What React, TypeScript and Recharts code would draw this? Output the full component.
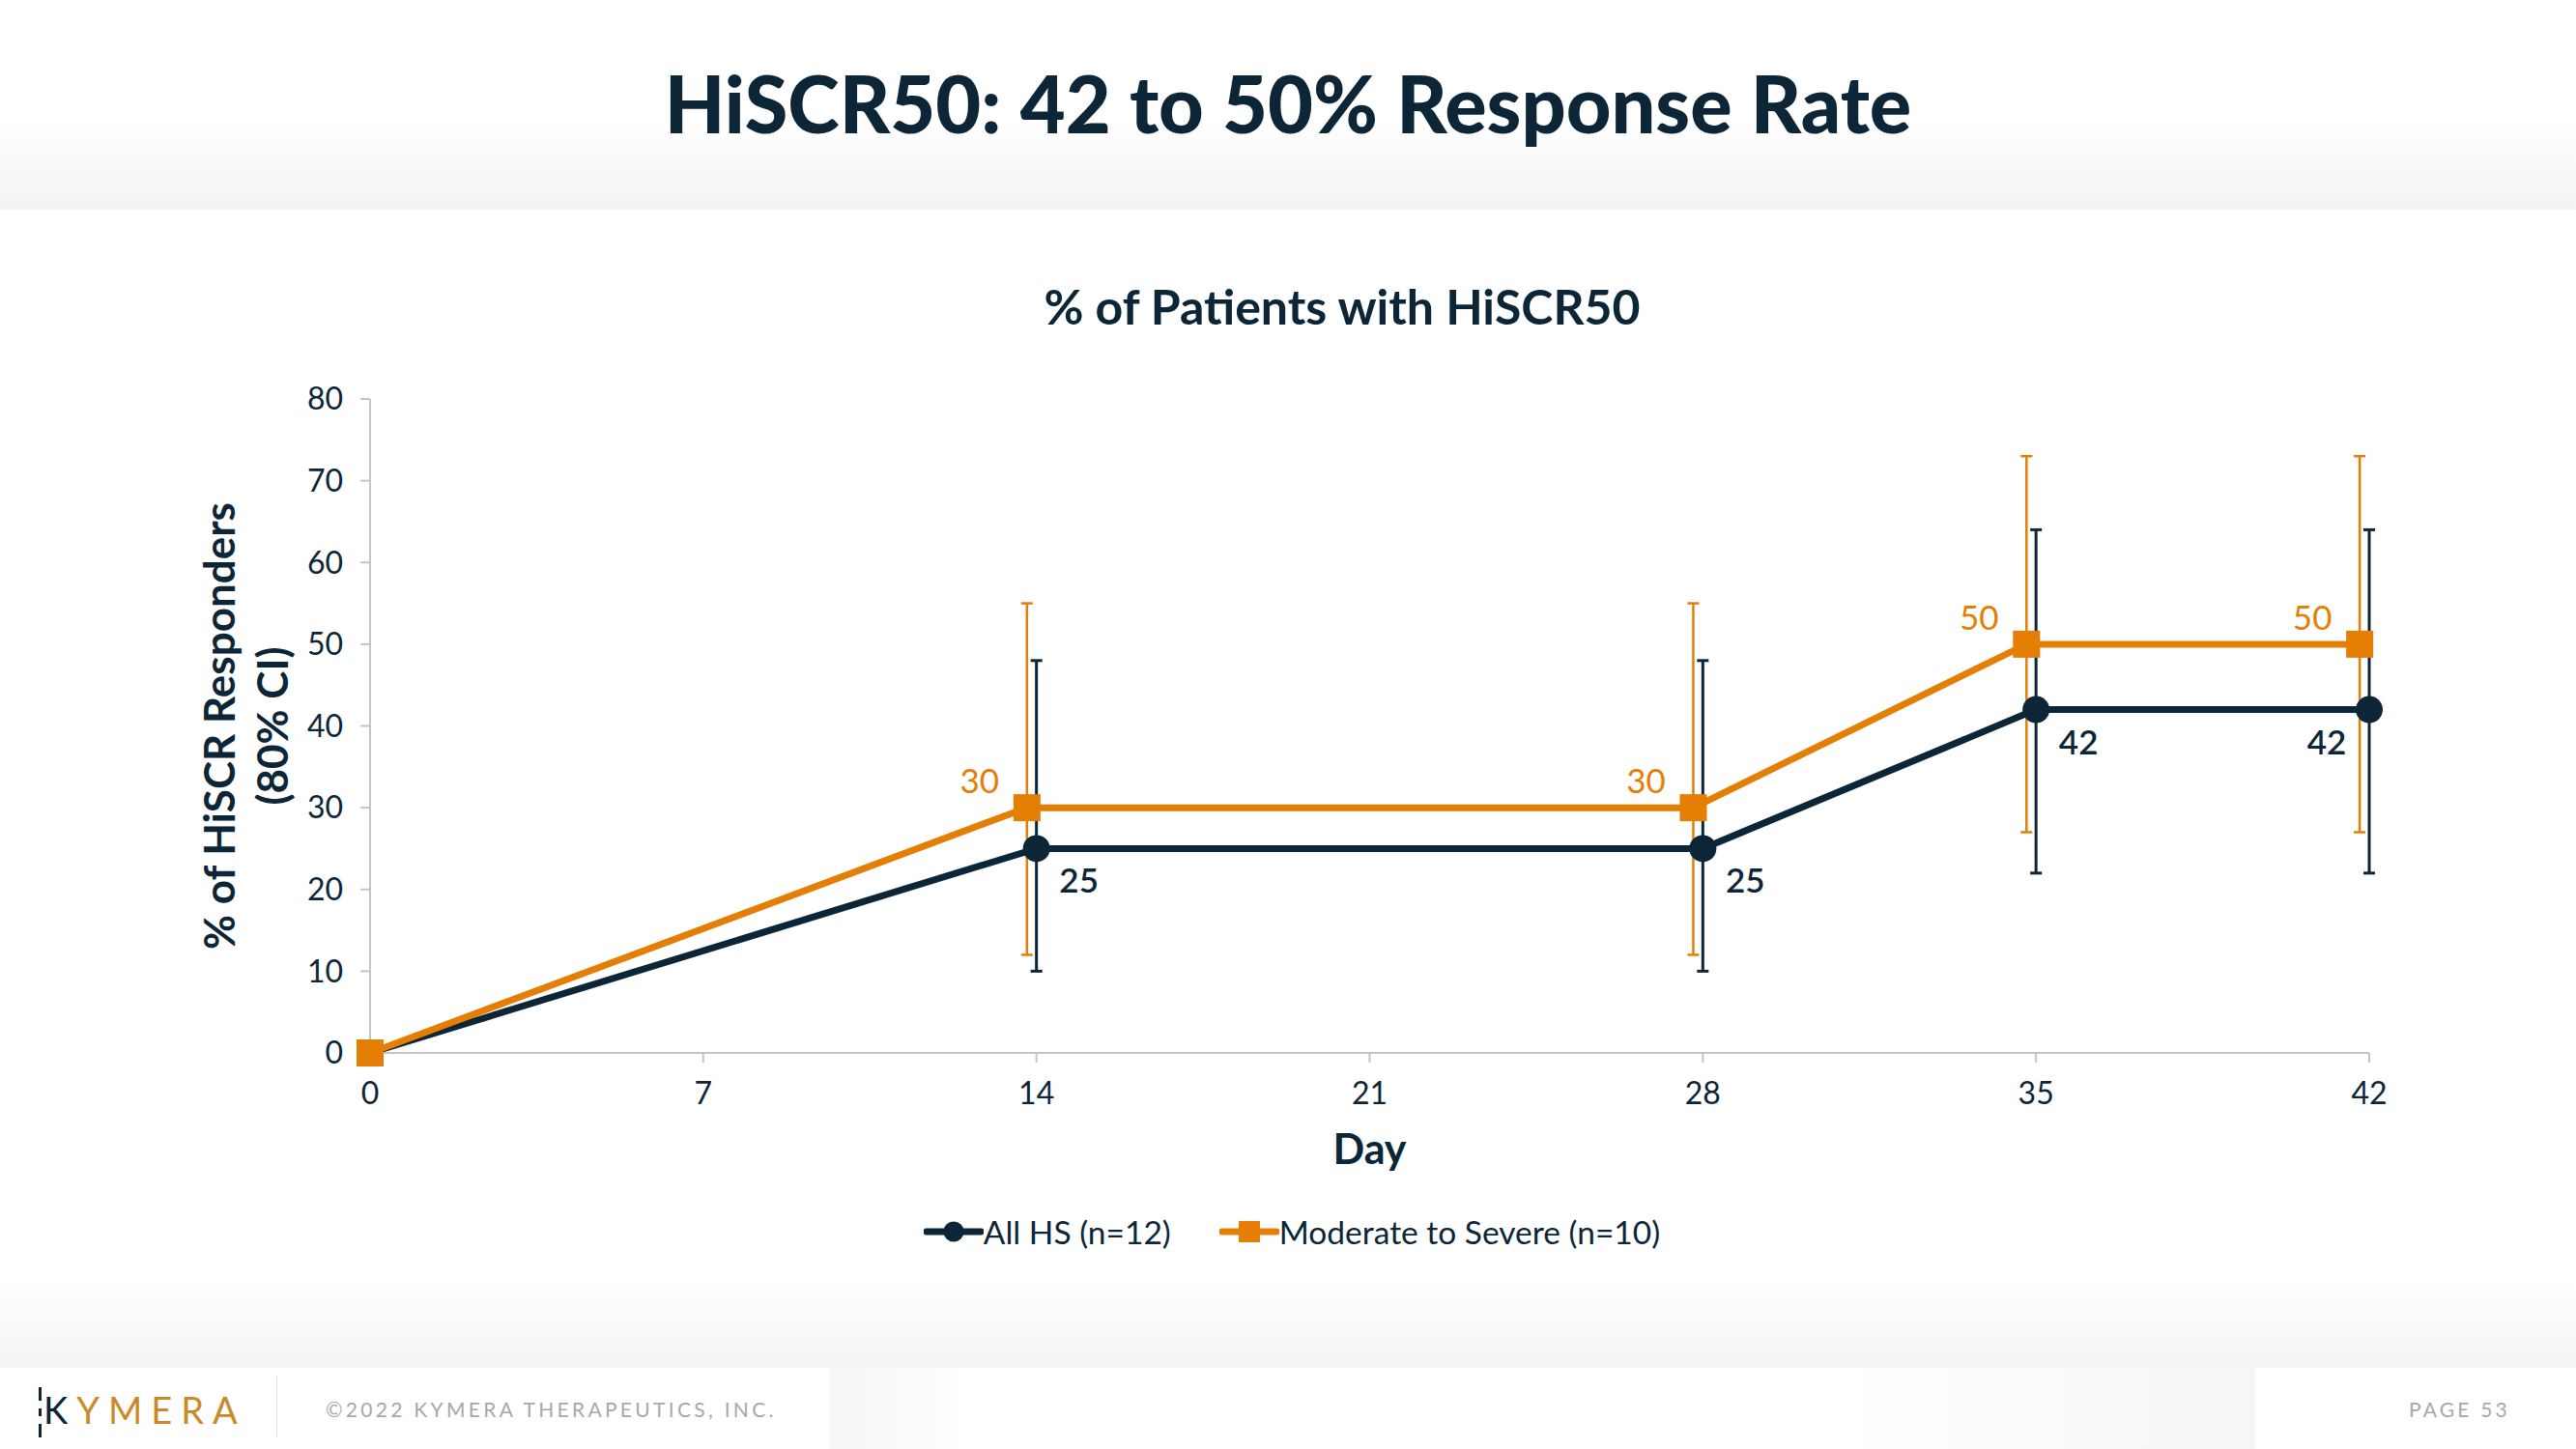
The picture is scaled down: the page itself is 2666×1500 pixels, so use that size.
import React from 'react';
import { LineChart, Line, XAxis, YAxis, ErrorBar } from 'recharts';

const NAVY = '#0c2638';
const ORANGE = '#e47e05';
const AXIS_GREY = '#c4c4c4';
const FONT = 'Lato, "Open Sans", sans-serif';

// All HS (n=12)
const allHsDays = [0, 14, 28, 35, 42];
const allHsValues = [0, 25, 25, 42, 42];
const allHsLow = [null, 10, 10, 22, 22];
const allHsHigh = [null, 48, 48, 64, 64];

// Moderate to Severe (n=10) - plotted slightly left of the nominal day
const modSevDays = [0, 13.8, 27.8, 34.8, 41.8];
const modSevValues = [0, 30, 30, 50, 50];
const modSevLow = [null, 12, 12, 27, 27];
const modSevHigh = [null, 55, 55, 73, 73];

const dayTicks = [0, 7, 14, 21, 28, 35, 42];
const pctTicks = [0, 10, 20, 30, 40, 50, 60, 70, 80];

const buildSeries = (days: number[], values: number[], low: (number | null)[], high: (number | null)[]) =>
  days.map((day, i) => ({
    day,
    value: values[i],
    err: low[i] == null ? null : [values[i] - (low[i] as number), (high[i] as number) - values[i]],
  }));

const allHs = buildSeries(allHsDays, allHsValues, allHsLow, allHsHigh);
const modSev = buildSeries(modSevDays, modSevValues, modSevLow, modSevHigh);

const navyLabel = (props: any) => {
  const { x, y, value, index } = props;
  if (!index) return null;
  const last = index === allHsDays.length - 1;
  return (
    <text
      key={`nl-${index}`}
      x={x + (last ? -44 : 44)}
      y={y + 32}
      textAnchor="middle"
      dominantBaseline="central"
      fill={NAVY}
      fontSize={35}
      fontFamily={FONT}
      fontWeight={600}
    >
      {value}
    </text>
  );
};

const orangeLabel = (props: any) => {
  const { x, y, value, index } = props;
  if (!index) return null;
  return (
    <text
      key={`ol-${index}`}
      x={x - 49}
      y={y - 29}
      textAnchor="middle"
      dominantBaseline="central"
      fill={ORANGE}
      fontSize={35}
      fontFamily={FONT}
    >
      {value}
    </text>
  );
};

const squareDot = (props: any) => {
  const { cx, cy, index } = props;
  return <rect key={`sq-${index}`} x={cx - 14} y={cy - 14} width={28} height={28} fill={ORANGE} />;
};

const yAxisLabel = (props: any) => {
  const { viewBox } = props;
  const cy = viewBox.y + viewBox.height / 2;
  const x1 = viewBox.x - 77;
  const x2 = viewBox.x - 22;
  return (
    <g>
      <text
        x={x1}
        y={cy}
        transform={`rotate(-90, ${x1}, ${cy})`}
        textAnchor="middle"
        dominantBaseline="central"
        fill={NAVY}
        fontSize={44}
        fontWeight={700}
        fontFamily={FONT}
      >
        % of HiSCR Responders
      </text>
      <text
        x={x2}
        y={cy}
        transform={`rotate(-90, ${x2}, ${cy})`}
        textAnchor="middle"
        dominantBaseline="central"
        fill={NAVY}
        fontSize={44}
        fontWeight={700}
        fontFamily={FONT}
      >
        (80% CI)
      </text>
    </g>
  );
};

const xAxisLabel = (props: any) => {
  const { viewBox } = props;
  return (
    <text
      x={viewBox.x + viewBox.width / 2}
      y={viewBox.y + 98}
      textAnchor="middle"
      dominantBaseline="central"
      fill={NAVY}
      fontSize={43}
      fontWeight={700}
      fontFamily={FONT}
    >
      Day
    </text>
  );
};

const LegendItem = ({ color, square, text }: { color: string; square: boolean; text: string }) => (
  <div style={{ display: 'flex', alignItems: 'center' }}>
    <svg width={62} height={30}>
      <line x1={3} y1={15} x2={59} y2={15} stroke={color} strokeWidth={7} strokeLinecap="round" />
      {square ? <rect x={20} y={4} width={22} height={22} fill={color} /> : <circle cx={31} cy={15} r={10.5} fill={color} />}
    </svg>
    <span style={{ fontSize: 33.5, color: NAVY, fontFamily: FONT }}>{text}</span>
  </div>
);

export default function App() {
  return (
    <div style={{ position: 'absolute', left: 0, top: 0, width: 2666, height: 1500, background: '#fff', overflow: 'hidden', fontFamily: FONT }}>
      {/* header band */}
      <div style={{ position: 'absolute', left: 0, top: 0, width: 2666, height: 217, background: 'linear-gradient(to bottom, #ffffff 0%, #ffffff 58%, #f3f3f3 100%)' }} />
      <div style={{ position: 'absolute', left: 0, top: 55, width: 2666, textAlign: 'center', fontSize: 81, fontWeight: 900, color: NAVY, lineHeight: '104px' }}>
        HiSCR50: 42 to 50% Response Rate
      </div>

      {/* chart title */}
      <div style={{ position: 'absolute', left: 0, top: 287, width: 2778, textAlign: 'center', fontSize: 50, fontWeight: 700, color: NAVY, lineHeight: '60px' }}>
        % of Patients with HiSCR50
      </div>

      <div style={{ position: 'absolute', left: 0, top: 0 }}>
        <LineChart width={2666} height={1330} margin={{ top: 413, right: 214, bottom: 180, left: 303 }}>
          <XAxis
            type="number"
            dataKey="day"
            domain={[0, 42]}
            ticks={dayTicks}
            interval={0}
            height={60}
            tickSize={10}
            tickMargin={20}
            axisLine={{ stroke: AXIS_GREY, strokeWidth: 2 }}
            tickLine={{ stroke: AXIS_GREY, strokeWidth: 2 }}
            tick={{ fill: NAVY, fontSize: 32, fontFamily: FONT }}
            label={{ content: xAxisLabel }}
          />
          <YAxis
            type="number"
            domain={[0, 80]}
            ticks={pctTicks}
            interval={0}
            width={80}
            tickSize={10}
            tickMargin={18}
            axisLine={{ stroke: AXIS_GREY, strokeWidth: 2 }}
            tickLine={{ stroke: AXIS_GREY, strokeWidth: 2 }}
            tick={{ fill: NAVY, fontSize: 32, fontFamily: FONT }}
            label={{ content: yAxisLabel }}
          />
          {/* error bars first so all markers sit above them */}
          <Line data={modSev} dataKey="value" stroke="none" dot={false} activeDot={false} legendType="none" isAnimationActive={false}>
            <ErrorBar dataKey="err" direction="y" width={6} strokeWidth={2.5} stroke={ORANGE} />
          </Line>
          <Line data={allHs} dataKey="value" stroke="none" dot={false} activeDot={false} legendType="none" isAnimationActive={false}>
            <ErrorBar dataKey="err" direction="y" width={6} strokeWidth={3} stroke={NAVY} />
          </Line>
          <Line
            data={allHs}
            dataKey="value"
            name="All HS (n=12)"
            stroke={NAVY}
            strokeWidth={7}
            dot={{ r: 14, fill: NAVY, stroke: NAVY, strokeWidth: 0 }}
            activeDot={false}
            label={navyLabel}
            isAnimationActive={false}
          />
          <Line
            data={modSev}
            dataKey="value"
            name="Moderate to Severe (n=10)"
            stroke={ORANGE}
            strokeWidth={7}
            dot={squareDot}
            activeDot={false}
            label={orangeLabel}
            isAnimationActive={false}
          />
        </LineChart>
      </div>

      {/* legend */}
      <div style={{ position: 'absolute', left: 0, top: 1255, width: 2666, display: 'flex', justifyContent: 'center', gap: 50, paddingLeft: 4 }}>
        <LegendItem color={NAVY} square={false} text="All HS (n=12)" />
        <LegendItem color={ORANGE} square={true} text="Moderate to Severe (n=10)" />
      </div>

      {/* footer */}
      <div style={{ position: 'absolute', left: 0, top: 1326, width: 2666, height: 90, background: 'linear-gradient(to bottom, #ffffff 0%, #f4f4f4 100%)' }} />
      <div style={{ position: 'absolute', left: 859, top: 1416, width: 144, height: 84, background: 'linear-gradient(to right, #f6f6f6, #ffffff)' }} />
      <div style={{ position: 'absolute', left: 1904, top: 1416, width: 430, height: 84, background: 'linear-gradient(to right, #ffffff, #f6f6f6)' }} />
      <div style={{ position: 'absolute', left: 40, top: 1436, width: 3, height: 14, background: NAVY }} />
      <div style={{ position: 'absolute', left: 40, top: 1458, width: 3, height: 8, background: NAVY }} />
      <div style={{ position: 'absolute', left: 40, top: 1474, width: 3, height: 14, background: NAVY }} />
      <div style={{ position: 'absolute', left: 45, top: 1437, fontSize: 38, letterSpacing: 9, lineHeight: '44px', fontWeight: 400 }}>
        <span style={{ color: NAVY }}>K</span>
        <span style={{ color: '#c98a2a' }}>YMERA</span>
      </div>
      <div style={{ position: 'absolute', left: 286, top: 1425, width: 1, height: 62, background: '#e2e2e2' }} />
      <div style={{ position: 'absolute', left: 337, top: 1446, fontSize: 21, letterSpacing: 3.3, color: '#a8a8a8', lineHeight: '26px' }}>
        ©2022 KYMERA THERAPEUTICS, INC.
      </div>
      <div style={{ position: 'absolute', right: 68, top: 1446, fontSize: 21, letterSpacing: 3.2, color: '#a8a8a8', lineHeight: '26px' }}>
        PAGE 53
      </div>
    </div>
  );
}
